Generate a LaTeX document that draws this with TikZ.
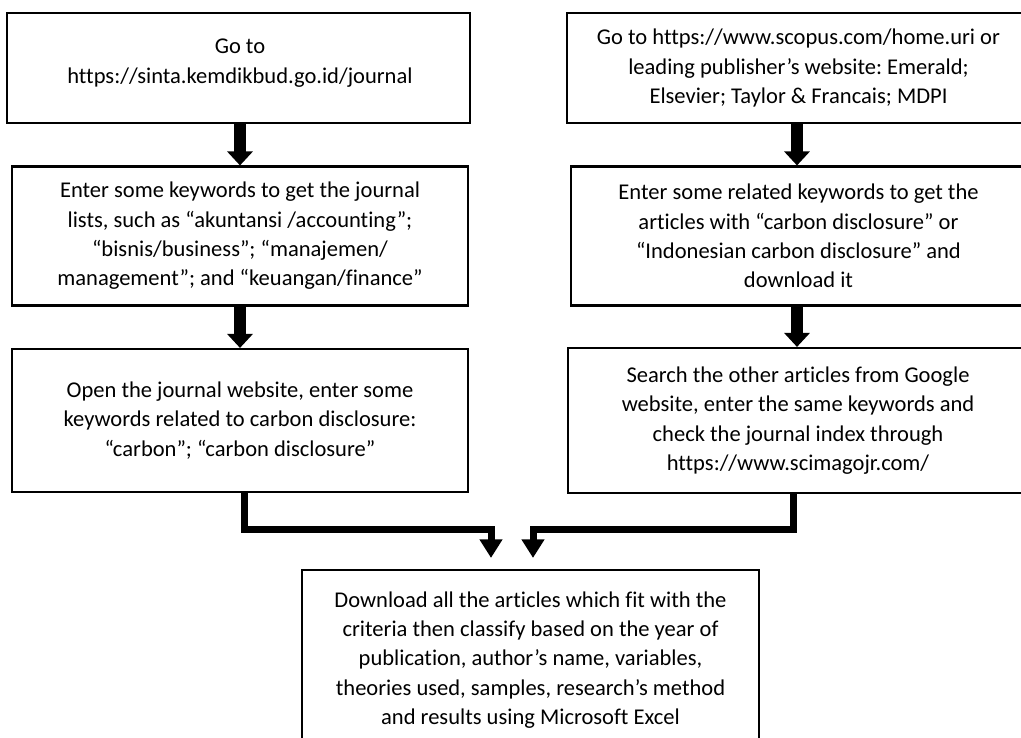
\documentclass[tikz,border=0pt]{standalone}
\usepackage{fontspec}
\setmainfont{Carlito}[Ligatures={NoCommon}]
\usetikzlibrary{arrows.meta,calc}
\frenchspacing
\begin{document}
\begin{tikzpicture}[x=0.75pt,y=-0.75pt,
  box/.style={draw=black,line width=1.6pt,align=center,inner sep=0pt,
    font=\fontsize{16.9}{22}\selectfont},
  txt/.style={align=center,inner sep=0pt,font=\fontsize{16.9}{22}\selectfont},
  blockarrow/.style={line width=8.5pt,-{Triangle[width=18.75pt,length=10.5pt]}},
  elbow/.style={line width=5.25pt,line join=miter,-{Triangle[width=16.5pt,length=14pt]}}]
\useasboundingbox (0,0) rectangle (1021,738);
% left column
\node[box,minimum width=347.25pt,minimum height=82.5pt] (L1) at (238.5,68) {};
\node[txt] (L1t) at (240,63) {Go to\\https://sinta.kemdikbud.go.id/journal};
\node[box,minimum width=342pt,minimum height=104.25pt] (L2) at (240,236)
  {Enter some keywords to get the journal\\lists, such as “akuntansi /accounting”;\\“bisnis/business”; “manajemen/\\management”; and “keuangan/finance”};
\node[box,minimum width=342pt,minimum height=107.25pt] (L3) at (240,420.5)
  {Open the journal website, enter some\\keywords related to carbon disclosure:\\“carbon”; “carbon disclosure”};
% right column
\node[box,minimum width=347.25pt,minimum height=82.5pt] (R1) at (798.5,68)
  {Go to https://www.scopus.com/home.uri or\\leading publisher’s website: Emerald;\\Elsevier; Taylor \& Francais; MDPI};
\node[box,minimum width=341.25pt,minimum height=104.25pt] (R2) at (798.5,236)
  {Enter some related keywords to get the\\articles with “carbon disclosure” or\\“Indonesian carbon disclosure” and\\download it};
\node[box,minimum width=345pt,minimum height=108.75pt] (R3) at (798,420.5)
  {Search the other articles from Google\\website, enter the same keywords and\\check the journal index through\\https://www.scimagojr.com/};
% bottom
\node[box,minimum width=342.75pt,minimum height=135pt] (B) at (530.5,660)
  {Download all the articles which fit with the\\criteria then classify based on the year of\\publication, author’s name, variables,\\theories used, samples, research’s method\\and results using Microsoft Excel};
% block arrows
\draw[blockarrow] (L1.south -| L2.north) -- (L2.north);
\draw[blockarrow] (L2.south) -- (L3.north);
\draw[blockarrow] ($(R1.south)+(-1.5,0)$) -- ($(R2.north)+(-1.5,0)$);
\draw[blockarrow] ($(R2.south)+(-1.5,0)$) -- ($(R3.north)+(-1,0)$);
% elbow arrows
\draw[elbow] ($(L3.south)+(4,0)$) -- ++(0,36) -| ($(B.north)+(-39.5,-11)$);
\draw[elbow] ($(R3.south)+(-5,0)$) -- ++(0,35) -| ($(B.north)+(2.5,-11)$);
\end{tikzpicture}
\end{document}
